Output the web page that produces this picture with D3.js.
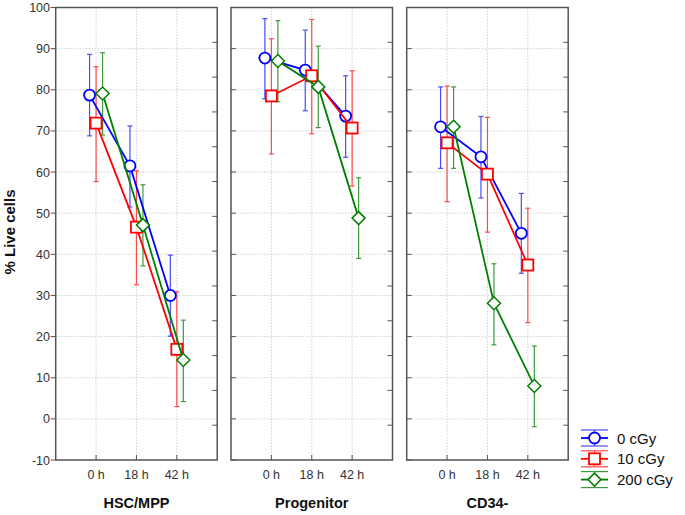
<!DOCTYPE html>
<html>
<head>
<meta charset="utf-8">
<script src="https://cdn.jsdelivr.net/npm/d3@7"></script>
<style>
  body { margin: 0; background: #fff; }
  svg { font-family: "Liberation Sans", Arial, sans-serif; }
</style>
</head>
<body>
<svg id="chart" width="685" height="515"></svg>
<script>
var panels = ["HSC/MPP", "Progenitor", "CD34-"];
var times = ["0 h", "18 h", "42 h"];
var doses = ["0 cGy", "10 cGy", "200 cGy"];
var yTicks = [-10, 0, 10, 20, 30, 40, 50, 60, 70, 80, 90, 100];

// mean, lower, upper for each panel -> time
var mean0 = [[78.7, 61.5, 30.0], [87.7, 84.8, 73.6], [71.0, 63.7, 45.1]];
var low0 = [[68.8, 51.5, 20.1], [77.8, 74.9, 63.6], [60.9, 53.7, 35.4]];
var high0 = [[88.6, 71.2, 39.8], [97.3, 94.5, 83.4], [80.7, 73.5, 54.8]];

var mean10 = [[71.9, 46.6, 16.9], [78.5, 83.4, 70.7], [67.1, 59.5, 37.4]];
var low10 = [[57.7, 32.6, 3.0], [64.4, 69.3, 56.6], [52.8, 45.4, 23.4]];
var high10 = [[85.6, 60.3, 30.9], [92.4, 97.1, 84.6], [80.9, 73.3, 51.2]];

var mean200 = [[79.1, 47.1, 14.3], [87.0, 80.7, 48.8], [71.0, 28.1, 8.0]];
var low200 = [[69.0, 37.2, 4.2], [77.1, 70.8, 39.0], [60.9, 18.0, -1.9]];
var high200 = [[89.0, 56.9, 24.0], [96.8, 90.6, 58.6], [80.7, 37.7, 17.7]];

var colors = ["#0000ff", "#ff0000", "#008000"];
var barColors = ["#4a4aff", "#ff4a4a", "#3c9a3c"];
var series = [
  { mean: mean0, low: low0, high: high0, shape: "circle" },
  { mean: mean10, low: low10, high: high10, shape: "square" },
  { mean: mean200, low: low200, high: high200, shape: "diamond" }
];
var offsets = [-6.5, 0, 6.5];

var svg = d3.select("#chart");
var yTop = 7.5, yBottom = 460;
var panelLeft = [55.7, 231, 406.7];
var panelW = 161.5;

var y = d3.scaleLinear().domain([-10, 100]).range([yBottom, yTop]);

// y axis label
svg.append("text")
  .attr("transform", "translate(15," + 232 + ") rotate(-90)")
  .attr("text-anchor", "middle")
  .style("font-size", "15px")
  .style("font-weight", "bold")
  .attr("fill", "#111")
  .text("% Live cells");

// tick labels on left
svg.selectAll(".ylab")
  .data(yTicks)
  .enter()
  .append("text")
  .attr("x", 50)
  .attr("y", (d) => y(d) + 4.5)
  .attr("text-anchor", "end")
  .style("font-size", "12.5px")
  .attr("fill", "#333")
  .text((d) => d);

panels.forEach(function (name, p) {
  var x = d3.scaleLinear().domain([0, 4]).range([panelLeft[p], panelLeft[p] + panelW]);
  var g = svg.append("g");

  // grid
  g.selectAll(".hg")
    .data(yTicks.slice(1, -1))
    .enter()
    .append("line")
    .attr("x1", x(0))
    .attr("x2", x(4))
    .attr("y1", (d) => y(d))
    .attr("y2", (d) => y(d))
    .attr("stroke", "#d0d0d0")
    .attr("stroke-dasharray", "1.5,1.5");
  g.selectAll(".vg")
    .data([1, 2, 3])
    .enter()
    .append("line")
    .attr("x1", (d) => x(d))
    .attr("x2", (d) => x(d))
    .attr("y1", yTop)
    .attr("y2", yBottom)
    .attr("stroke", "#d0d0d0")
    .attr("stroke-dasharray", "1.5,1.5");

  // left ticks (major) and right ticks
  g.selectAll(".lt")
    .data(yTicks)
    .enter()
    .append("line")
    .attr("x1", p == 0 ? x(0) - 5 : x(0))
    .attr("x2", p == 0 ? x(0) : x(0) + 5)
    .attr("y1", (d) => y(d))
    .attr("y2", (d) => y(d))
    .attr("stroke", "#555");
  g.selectAll(".rt")
    .data(d3.range(1, 13))
    .enter()
    .append("line")
    .attr("x1", x(4) - 5)
    .attr("x2", x(4))
    .attr("y1", (d) => yTop + (d * (yBottom - yTop)) / 13)
    .attr("y2", (d) => yTop + (d * (yBottom - yTop)) / 13)
    .attr("stroke", "#555");
  // bottom ticks
  g.selectAll(".bt")
    .data([1, 2, 3])
    .enter()
    .append("line")
    .attr("x1", (d) => x(d))
    .attr("x2", (d) => x(d))
    .attr("y1", yBottom)
    .attr("y2", yBottom - 5)
    .attr("stroke", "#555");

  // x labels
  g.selectAll(".xl")
    .data(times)
    .enter()
    .append("text")
    .attr("x", (d, i) => x(i + 1))
    .attr("y", 479)
    .attr("text-anchor", "middle")
    .style("font-size", "12.5px")
    .attr("fill", "#333")
    .text((d) => d);

  g.append("text")
    .attr("x", x(2))
    .attr("y", 508)
    .attr("text-anchor", "middle")
    .style("font-size", "14.5px")
    .style("font-weight", "bold")
    .attr("fill", "#111")
    .text(name);

  // error bars
  series.forEach(function (s, k) {
    var pts = times.map((t, i) => ({
      x: x(i + 1) + offsets[k],
      m: s.mean[p][i],
      lo: s.low[p][i],
      hi: s.high[p][i]
    }));
    var eb = g.append("g").attr("stroke", barColors[k]).attr("stroke-width", 1.2);
    pts.forEach(function (d) {
      eb.append("line").attr("x1", d.x).attr("x2", d.x).attr("y1", y(d.lo)).attr("y2", y(d.hi));
      eb.append("line").attr("x1", d.x - 2.5).attr("x2", d.x + 2.5).attr("y1", y(d.lo)).attr("y2", y(d.lo));
      eb.append("line").attr("x1", d.x - 2.5).attr("x2", d.x + 2.5).attr("y1", y(d.hi)).attr("y2", y(d.hi));
    });
  });

  // lines and markers
  series.forEach(function (s, k) {
    var pts = times.map((t, i) => ({ x: x(i + 1) + offsets[k], m: s.mean[p][i] }));
    var line = d3.line().x((d) => d.x).y((d) => y(d.m));
    g.append("path")
      .datum(pts)
      .attr("d", line)
      .attr("fill", "none")
      .attr("stroke", colors[k])
      .attr("stroke-width", 1.8);
    pts.forEach(function (d) {
      drawMarker(g, s.shape, d.x, y(d.m), colors[k]);
    });
  });

  // frame
  g.append("rect")
    .attr("x", x(0))
    .attr("y", yTop)
    .attr("width", x(4) - x(0))
    .attr("height", yBottom - yTop)
    .attr("fill", "none")
    .attr("stroke", "#555")
    .attr("stroke-width", 1.5);
});

function drawMarker(g, shape, cx, cy, col) {
  if (shape == "circle") {
    g.append("circle").attr("cx", cx).attr("cy", cy).attr("r", 5.5)
      .attr("fill", "#fff").attr("stroke", col).attr("stroke-width", 1.8);
  } else if (shape == "square") {
    g.append("rect").attr("x", cx - 5.5).attr("y", cy - 5.5).attr("width", 11).attr("height", 11)
      .attr("fill", "#fff").attr("stroke", col).attr("stroke-width", 1.8);
  } else {
    var r = 6.5;
    g.append("path")
      .attr("d", "M" + cx + "," + (cy - r) + "L" + (cx + r) + "," + cy + "L" + cx + "," + (cy + r) + "L" + (cx - r) + "," + cy + "Z")
      .attr("fill", "#fff").attr("stroke", col).attr("stroke-width", 1.5);
  }
}

// legend
var legend = svg.append("g");
doses.forEach(function (d, k) {
  var cy = 438 + k * 20.8;
  var lg = legend.append("g");
  lg.append("line").attr("x1", 581).attr("x2", 608).attr("y1", cy - 8).attr("y2", cy - 8)
    .attr("stroke", barColors[k]).attr("stroke-width", 1.2);
  lg.append("line").attr("x1", 581).attr("x2", 608).attr("y1", cy + 8).attr("y2", cy + 8)
    .attr("stroke", barColors[k]).attr("stroke-width", 1.2);
  lg.append("line").attr("x1", 581).attr("x2", 608).attr("y1", cy).attr("y2", cy)
    .attr("stroke", colors[k]).attr("stroke-width", 1.8);
  lg.append("line").attr("x1", 594.5).attr("x2", 594.5).attr("y1", cy - 8).attr("y2", cy + 8)
    .attr("stroke", barColors[k]).attr("stroke-width", 1.2);
  drawMarker(lg, series[k].shape, 594.5, cy, colors[k]);
  lg.append("text")
    .attr("x", 617)
    .attr("y", cy + 5.5)
    .style("font-size", "15px")
    .attr("fill", "#111")
    .text(d);
});
</script>
</body>
</html>
